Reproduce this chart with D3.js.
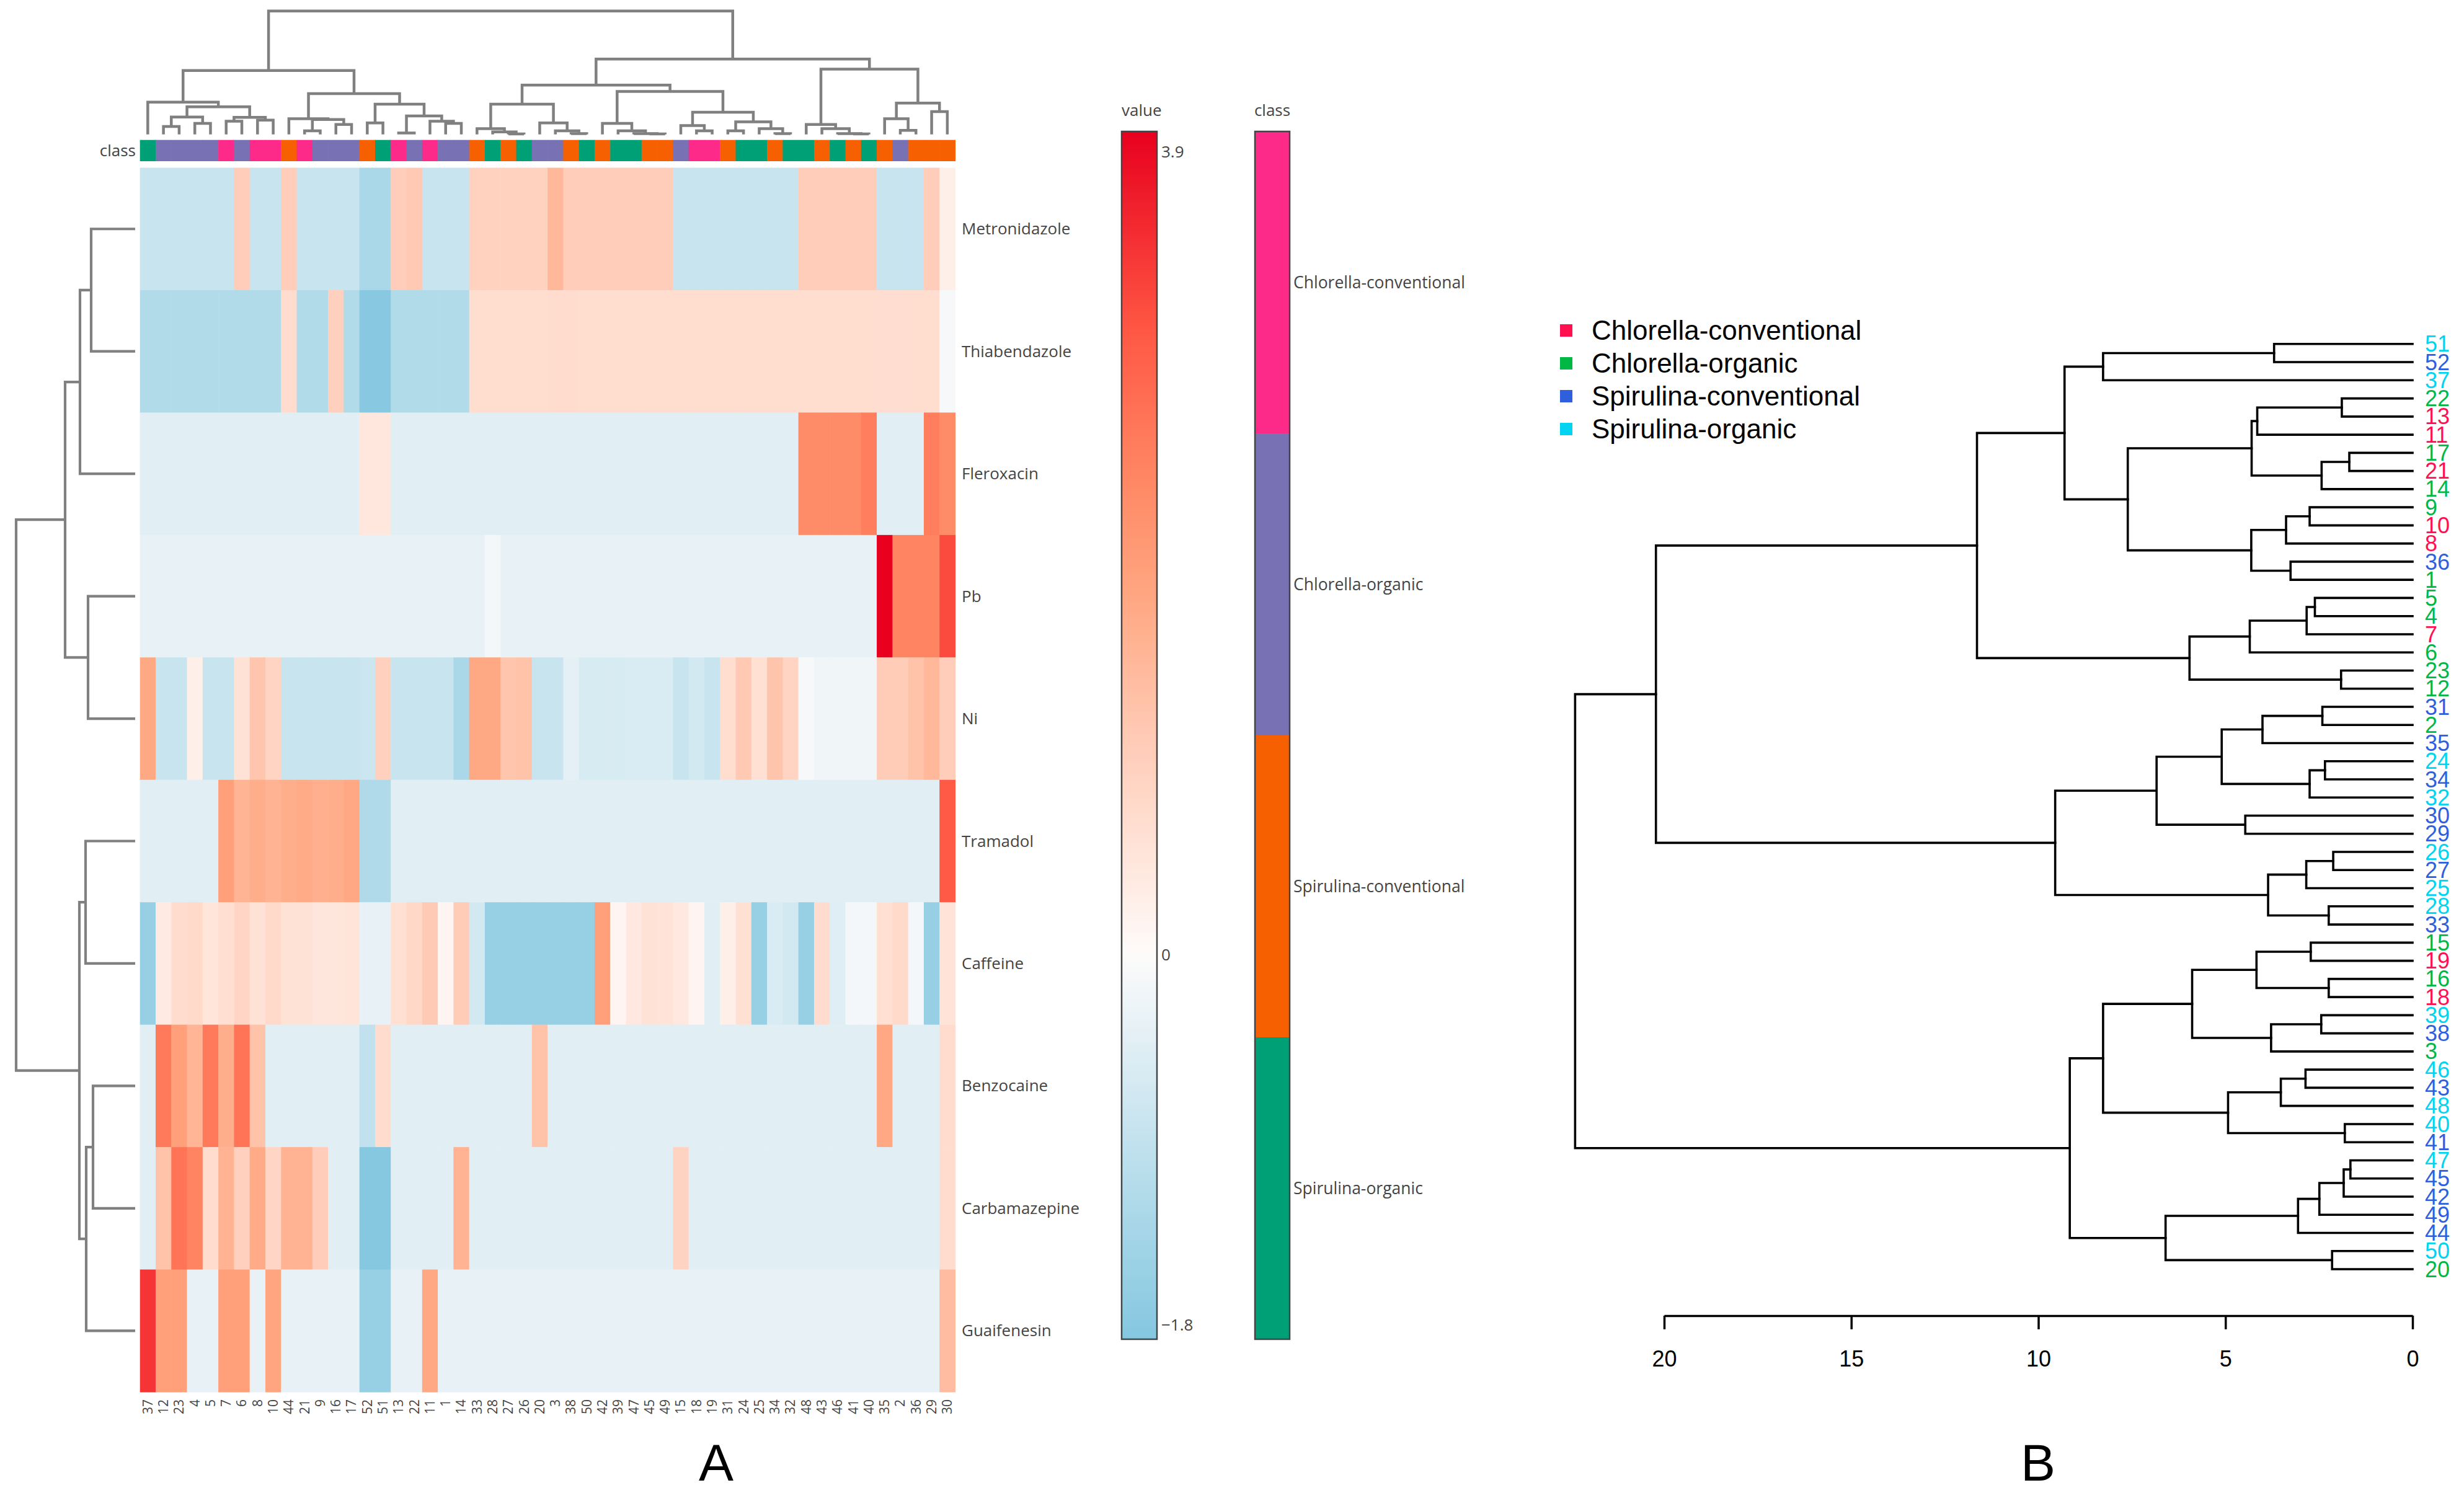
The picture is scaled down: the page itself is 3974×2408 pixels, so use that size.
<!DOCTYPE html>
<html>
<head>
<meta charset="utf-8">
<script src="https://cdn.jsdelivr.net/npm/d3@7"></script>
<style>
  body { margin: 0; background: #fff; }
  svg { display: block; }
</style>
</head>
<body>
<div id="chart"></div>
<script>
// ---------- data ----------

// column order of the heatmap (sample ids, left to right)
const colOrder = [37,12,23,4,5,7,6,8,10,44,21,9,16,17,52,51,13,22,11,1,14,33,28,27,26,20,3,38,50,42,39,47,45,49,15,18,19,31,24,25,34,32,48,43,46,41,40,35,2,36,29,30];

const rowLabels = ["Metronidazole","Thiabendazole","Fleroxacin","Pb","Ni","Tramadol","Caffeine","Benzocaine","Carbamazepine","Guaifenesin"];

const classNames = ["Chlorella-conventional","Chlorella-organic","Spirulina-conventional","Spirulina-organic"];

// class index of sample 1..52 (position = sample - 1)
const sampleClass = [
  1,1,1,1,1,1,0,0,1,0,
  0,1,0,1,1,1,1,0,0,1,
  0,1,1,3,3,3,2,3,2,2,
  2,3,2,2,2,2,3,2,3,3,
  2,2,2,2,2,3,3,3,2,3,
  3,2];

// scaled values per compound, in colOrder
const metronidazole = [
  -0.82,-0.82,-0.82,-0.82,-0.82,-0.82,0.99,-0.82,-0.82,0.99,
  -0.82,-0.82,-0.82,-0.82,-1.26,-1.26,0.99,1.08,-0.82,-0.82,
  -0.82,0.89,0.89,0.89,0.89,0.89,1.41,0.99,0.99,0.99,
  0.99,0.99,0.99,0.99,-0.82,-0.82,-0.82,-0.82,-0.82,-0.82,
  -0.82,-0.82,0.99,0.99,0.99,0.99,0.99,-0.82,-0.82,-0.82,
  0.99,0.26];
const thiabendazole = [
  -1.16,-1.16,-1.16,-1.16,-1.16,-1.16,-1.16,-1.16,-1.16,0.67,
  -1.16,-1.16,0.93,-1.16,-1.81,-1.81,-1.16,-1.16,-1.16,-1.16,
  -1.16,0.65,0.65,0.65,0.65,0.65,0.67,0.67,0.65,0.65,
  0.65,0.65,0.65,0.65,0.65,0.65,0.65,0.65,0.65,0.65,
  0.65,0.65,0.65,0.65,0.65,0.65,0.65,0.63,0.63,0.65,
  0.65,-0.09];
const fleroxacin = [
  -0.43,-0.43,-0.43,-0.43,-0.43,-0.43,-0.43,-0.43,-0.43,-0.43,
  -0.43,-0.43,-0.43,-0.43,0.43,0.43,-0.43,-0.43,-0.43,-0.43,
  -0.43,-0.43,-0.43,-0.43,-0.43,-0.43,-0.43,-0.43,-0.43,-0.43,
  -0.43,-0.43,-0.43,-0.43,-0.43,-0.43,-0.43,-0.43,-0.43,-0.43,
  -0.43,-0.43,2.22,2.22,2.22,2.22,2.45,-0.43,-0.43,-0.43,
  2.45,2.22];
const pb = [
  -0.33,-0.33,-0.33,-0.33,-0.33,-0.33,-0.33,-0.33,-0.33,-0.33,
  -0.33,-0.33,-0.33,-0.33,-0.33,-0.33,-0.33,-0.33,-0.33,-0.33,
  -0.33,-0.33,-0.15,-0.33,-0.33,-0.33,-0.33,-0.33,-0.33,-0.33,
  -0.33,-0.33,-0.33,-0.33,-0.33,-0.33,-0.33,-0.33,-0.33,-0.33,
  -0.33,-0.33,-0.33,-0.33,-0.33,-0.33,-0.33,4.0,2.35,2.35,
  2.35,3.18];
const ni = [
  1.7,-0.82,-0.82,0.26,-0.82,-0.82,0.54,1.16,0.84,-0.82,
  -0.82,-0.82,-0.82,-0.82,-0.76,0.93,-0.82,-0.82,-0.82,-0.82,
  -1.26,1.7,1.7,1.16,1.2,-0.82,-0.82,-0.38,-0.58,-0.58,
  -0.58,-0.55,-0.55,-0.55,-0.82,-0.65,-0.82,0.65,1.08,0.59,
  1.18,0.84,-0.11,-0.2,-0.2,-0.2,-0.2,1.01,1.01,1.2,
  1.41,0.99];
const tramadol = [
  -0.43,-0.43,-0.43,-0.43,-0.43,1.86,1.49,1.6,1.51,1.6,
  1.66,1.58,1.6,1.72,-1.19,-1.19,-0.43,-0.43,-0.43,-0.43,
  -0.43,-0.43,-0.43,-0.43,-0.43,-0.43,-0.43,-0.43,-0.43,-0.43,
  -0.43,-0.43,-0.43,-0.43,-0.43,-0.43,-0.43,-0.43,-0.43,-0.43,
  -0.43,-0.43,-0.43,-0.43,-0.43,-0.43,-0.43,-0.43,-0.43,-0.43,
  -0.43,3.0];
const caffeine = [
  -1.57,0.37,0.67,0.74,0.48,0.61,0.8,0.54,0.74,0.54,
  0.54,0.46,0.46,0.5,-0.33,-0.33,0.59,0.76,1.06,0.13,
  1.01,-0.65,-1.57,-1.57,-1.57,-1.57,-1.57,-1.57,-1.57,1.86,
  0.13,0.41,0.54,0.52,0.41,0.13,-0.43,0.26,0.59,-1.57,
  -0.55,-0.65,-1.57,0.67,-0.47,-0.14,-0.14,0.59,0.74,-0.14,
  -1.57,0.52];
const benzocaine = [
  -0.43,2.52,1.87,1.47,2.52,1.6,2.6,1.2,-0.43,-0.43,
  -0.43,-0.43,-0.43,-0.43,-0.94,0.67,-0.43,-0.43,-0.43,-0.43,
  -0.43,-0.43,-0.43,-0.43,-0.43,1.2,-0.43,-0.43,-0.43,-0.43,
  -0.43,-0.43,-0.43,-0.43,-0.43,-0.43,-0.43,-0.43,-0.43,-0.43,
  -0.43,-0.43,-0.43,-0.43,-0.43,-0.43,-0.43,1.72,-0.43,-0.43,
  -0.43,0.67];
const carbamazepine = [
  -0.43,1.2,2.6,2.36,0.67,1.51,0.93,1.66,0.8,1.51,
  1.51,0.99,-0.43,-0.43,-1.85,-1.85,-0.43,-0.43,-0.43,-0.43,
  1.51,-0.43,-0.43,-0.43,-0.43,-0.43,-0.43,-0.43,-0.43,-0.43,
  -0.43,-0.43,-0.43,-0.43,0.86,-0.43,-0.43,-0.43,-0.43,-0.43,
  -0.43,-0.43,-0.43,-0.43,-0.43,-0.43,-0.43,-0.43,-0.43,-0.43,
  -0.43,0.67];
const guaifenesin = [
  3.42,1.86,1.86,-0.33,-0.33,1.86,1.86,-0.33,1.77,-0.33,
  -0.33,-0.33,-0.33,-0.33,-1.57,-1.57,-0.33,-0.33,1.72,-0.33,
  -0.33,-0.33,-0.33,-0.33,-0.33,-0.33,-0.33,-0.33,-0.33,-0.33,
  -0.33,-0.33,-0.33,-0.33,-0.33,-0.33,-0.33,-0.33,-0.33,-0.33,
  -0.33,-0.33,-0.33,-0.33,-0.33,-0.33,-0.33,-0.33,-0.33,-0.33,
  -0.33,1.34];

// colour bar ticks
const valueTicks = [3.9, 0, -1.8];

// dendrograms: [left, right, height]; leaves are sample ids / row names
const colTreeLeft = [
  [37, [[[12, 23, 37], [4, 5, 52], 82], [[7, 6, 62], [8, 10, 67], 80], 130], 152],
  [[44, [[21, 9, 17], [16, 17, 47], 70], 74], [[52, 51, 54], [[13, 22, 7], [11, [1, 14, 52], 62], 87], 142], 192],
  300];
const colTreeRight = [
  [[[33, [28, [27, 26, 2], 12], 27], [20, [3, [38, 50, 4], 17], 54], 142],
   [[42, [39, [47, [45, 49, 2], 4], 17], 52],
    [[15, [18, 19, 17], 42], [[31, 24, 17], [25, [34, 32, 4], 27], 59], 104], 202], 232],
  [[48, [43, [46, [41, 40, 2], 4], 27], 47], [[35, [2, 36, 19], 74], [29, 30, 107], 147], 307],
  354];
const colTree = [colTreeLeft, colTreeRight, 580];

const rowTree = [
  [[["Metronidazole", "Thiabendazole", 71], "Fleroxacin", 89], ["Pb", "Ni", 76], 113],
  [["Tramadol", "Caffeine", 80], [["Benzocaine", "Carbamazepine", 68], "Guaifenesin", 79], 90],
  192];

// panel B: hierarchical clustering of samples (height axis 0..20+)
const bT1 = [[51, 52, 3.70], 37, 8.27];
const bT2 = [[[[22, 13, 1.89], 11, 4.15], [[17, 21, 1.69], 14, 2.43], 4.30],
             [[[9, 10, 2.75], 8, 3.38], [36, 1, 3.26], 4.31], 7.61];
const bT4 = [[[[5, 4, 2.61], 7, 2.83], 6, 4.35], [23, 12, 1.91], 5.96];
const bU2 = [[[[31, 2, 2.41], 35, 4.01], [[24, 34, 2.34], 32, 2.75], 5.10], [30, 29, 4.47], 6.84];
const bU3 = [[[26, 27, 2.12], 25, 2.84], [28, 33, 2.24], 3.86];
const bV1 = [[[15, 19, 2.72], [16, 18, 2.24], 4.17], [[39, 38, 2.44], 3, 3.78], 5.89];
const bV2 = [[[46, 43, 2.86], 48, 3.52], [40, 41, 1.81], 4.93];
const bW = [[[[[47, 45, 1.66], 42, 1.84], 49, 2.49], 44, 3.06], [50, 20, 2.15], 6.60];
const sampleTree = [
  [[[bT1, bT2, 9.30], bT4, 11.64], [bU2, bU3, 9.55], 20.22],
  [[bV1, bV2, 8.27], bW, 9.16],
  22.38];
const heightTicks = [20, 15, 10, 5, 0];

// ---------- drawing ----------
var width = 3974, height = 2408;
var heatFont = "'Open Sans', 'Noto Sans', sans-serif";
var plainFont = "'Liberation Sans', Arial, sans-serif";

var heatClassColor = ["#fd2a8a", "#7872b4", "#f66001", "#00a077"];
var labelClassColor = ["#ff1050", "#00b843", "#2f5fdc", "#00d4f0"];

var heatColor = d3
  .scaleLinear()
  .domain([-1.87, 0, 0.5, 1.1, 1.7, 2.3, 3.0, 4.0])
  .range(["#84c7e0", "#fdfbfb", "#ffe4d9", "#ffc8b2", "#ffa984", "#ff8864", "#ff5a45", "#e8001e"])
  .clamp(true);

var svg = d3
  .select("#chart")
  .append("svg")
  .attr("width", width)
  .attr("height", height);
svg.append("rect").attr("width", width).attr("height", height).attr("fill", "#fff");

// tree helpers
function layout(node, pos) {
  if (!Array.isArray(node)) return { id: node, p: pos(node), h: 0 };
  var a = layout(node[0], pos), b = layout(node[1], pos);
  return { a: a, b: b, h: node[2], p: (a.p + b.p) / 2 };
}
function joins(n, out) {
  if (n.a) { out.push(n); joins(n.a, out); joins(n.b, out); }
  return out;
}
function leafOrder(node, out) {
  if (Array.isArray(node)) { leafOrder(node[0], out); leafOrder(node[1], out); }
  else out.push(node);
  return out;
}

// ===== panel A : heatmap =====
var x = d3.scaleBand().domain(colOrder).range([225.7, 1540.5]);
var y = d3.scaleBand().domain(rowLabels).range([270.5, 2245]);

var rows = [metronidazole, thiabendazole, fleroxacin, pb, ni, tramadol, caffeine, benzocaine, carbamazepine, guaifenesin];
var cells = [];
rows.forEach(function (r, i) {
  r.forEach(function (v, j) {
    cells.push({ row: rowLabels[i], col: colOrder[j], v: v });
  });
});

svg
  .append("g")
  .selectAll("rect")
  .data(cells)
  .join("rect")
  .attr("x", (d) => x(d.col))
  .attr("y", (d) => y(d.row))
  .attr("width", x.bandwidth() + 0.6)
  .attr("height", y.bandwidth() + 0.6)
  .attr("fill", (d) => heatColor(d.v));

// class side bar
svg
  .append("g")
  .selectAll("rect")
  .data(colOrder)
  .join("rect")
  .attr("x", (d) => x(d))
  .attr("y", 225.7)
  .attr("width", x.bandwidth() + 0.6)
  .attr("height", 34.3)
  .attr("fill", (d) => heatClassColor[sampleClass[d - 1]]);

svg
  .append("text")
  .attr("x", 219)
  .attr("y", 243)
  .attr("dy", "0.35em")
  .attr("text-anchor", "end")
  .attr("font-family", heatFont)
  .attr("font-size", 26)
  .attr("fill", "#444")
  .text("class");

// column dendrogram
var hTop = d3.scaleLinear().domain([0, 580]).range([216.8, 17.8]);
var colRoot = layout(colTree, (d) => x(d) + x.bandwidth() / 2);
svg
  .append("g")
  .selectAll("path")
  .data(joins(colRoot, []))
  .join("path")
  .attr("d", (n) =>
    "M" + n.a.p + "," + hTop(n.a.h) + "V" + hTop(n.h) + "H" + n.b.p + "V" + hTop(n.b.h))
  .attr("fill", "none")
  .attr("stroke", "#808080")
  .attr("stroke-width", 4.5);

// row dendrogram
var hRow = d3.scaleLinear().domain([0, 192]).range([218, 26]);
var rowRoot = layout(rowTree, (d) => y(d) + y.bandwidth() / 2);
svg
  .append("g")
  .selectAll("path")
  .data(joins(rowRoot, []))
  .join("path")
  .attr("d", (n) =>
    "M" + hRow(n.a.h) + "," + n.a.p + "H" + hRow(n.h) + "V" + n.b.p + "H" + hRow(n.b.h))
  .attr("fill", "none")
  .attr("stroke", "#808080")
  .attr("stroke-width", 4.2);

// row labels
svg
  .append("g")
  .selectAll("text")
  .data(rowLabels)
  .join("text")
  .attr("x", 1551)
  .attr("y", (d) => y(d) + y.bandwidth() / 2)
  .attr("dy", "0.35em")
  .attr("font-family", heatFont)
  .attr("font-size", 26)
  .attr("fill", "#444")
  .text((d) => d);

// column labels (rotated)
svg
  .append("g")
  .selectAll("text")
  .data(colOrder)
  .join("text")
  .attr("transform", (d) => "translate(" + (x(d) + x.bandwidth() / 2) + ",2257)rotate(-90)")
  .attr("dy", "0.35em")
  .attr("text-anchor", "end")
  .attr("font-family", heatFont)
  .attr("font-size", 21)
  .attr("fill", "#444")
  .text((d) => String(d));

// value colour bar
var barY = d3.scaleLinear().domain([-1.87, 4.0]).range([2160, 212]);
var defs = svg.append("defs");
var grad = defs
  .append("linearGradient")
  .attr("id", "valueGrad")
  .attr("x1", 0).attr("y1", 1)
  .attr("x2", 0).attr("y2", 0);
grad
  .selectAll("stop")
  .data(d3.range(0, 1.0001, 0.02))
  .join("stop")
  .attr("offset", (t) => t)
  .attr("stop-color", (t) => heatColor(-1.87 + t * 5.87));

svg
  .append("rect")
  .attr("x", 1809)
  .attr("y", 212)
  .attr("width", 57)
  .attr("height", 1948)
  .attr("fill", "url(#valueGrad)")
  .attr("stroke", "#444")
  .attr("stroke-width", 2.5);

svg
  .append("text")
  .attr("x", 1809)
  .attr("y", 178)
  .attr("dy", "0.35em")
  .attr("font-family", heatFont)
  .attr("font-size", 26)
  .attr("fill", "#444")
  .text("value");

svg
  .append("g")
  .selectAll("text")
  .data(valueTicks)
  .join("text")
  .attr("x", 1873)
  .attr("y", (d) => barY(d))
  .attr("dy", "0.35em")
  .attr("font-family", heatFont)
  .attr("font-size", 26)
  .attr("fill", "#444")
  .text((d) => d3.format(".2~g")(d));

// class legend bar
var segH = 1948 / classNames.length;
svg
  .append("g")
  .selectAll("rect")
  .data(classNames)
  .join("rect")
  .attr("x", 2024)
  .attr("y", (d, i) => 212 + i * segH)
  .attr("width", 56)
  .attr("height", segH)
  .attr("fill", (d, i) => heatClassColor[i]);
svg
  .append("rect")
  .attr("x", 2024)
  .attr("y", 212)
  .attr("width", 56)
  .attr("height", 1948)
  .attr("fill", "none")
  .attr("stroke", "#444")
  .attr("stroke-width", 2.5);
svg
  .append("g")
  .selectAll("text")
  .data(classNames)
  .join("text")
  .attr("x", 2086)
  .attr("y", (d, i) => 212 + (i + 0.5) * segH)
  .attr("dy", "0.35em")
  .attr("font-family", heatFont)
  .attr("font-size", 26.5)
  .attr("fill", "#444")
  .text((d) => d);

svg
  .append("text")
  .attr("x", 2052)
  .attr("y", 178)
  .attr("dy", "0.35em")
  .attr("text-anchor", "middle")
  .attr("font-family", heatFont)
  .attr("font-size", 26)
  .attr("fill", "#444")
  .text("class");

// ===== panel B : sample dendrogram =====
var bOrder = leafOrder(sampleTree, []);
var yB = d3.scalePoint().domain(bOrder).range([554.8, 2047]);
var xB = d3.scaleLinear().domain([0, 20]).range([3891, 2684]);
var bRoot = layout(sampleTree, (d) => yB(d));

svg
  .append("g")
  .selectAll("path")
  .data(joins(bRoot, []))
  .join("path")
  .attr("d", (n) =>
    "M" + xB(n.a.h) + "," + n.a.p + "H" + xB(n.h) + "V" + n.b.p + "H" + xB(n.b.h))
  .attr("fill", "none")
  .attr("stroke", "#000")
  .attr("stroke-width", 3.6)
  .attr("stroke-linecap", "square");

svg
  .append("g")
  .selectAll("text")
  .data(bOrder)
  .join("text")
  .attr("x", 3911)
  .attr("y", (d) => yB(d))
  .attr("dy", "0.35em")
  .attr("font-family", plainFont)
  .attr("font-size", 36)
  .attr("fill", (d) => labelClassColor[sampleClass[d - 1]])
  .text((d) => String(d));

// height axis
var axisG = svg
  .append("g")
  .attr("transform", "translate(0,2122)")
  .call(d3.axisBottom(xB).tickValues(heightTicks).tickSize(22).tickSizeOuter(0).tickPadding(34));
axisG.selectAll("path, line").attr("stroke", "#000").attr("stroke-width", 3.5);
axisG
  .selectAll("text")
  .attr("font-family", plainFont)
  .attr("font-size", 36)
  .attr("fill", "#000");

// legend
var lg = svg
  .append("g")
  .selectAll("g")
  .data(classNames)
  .join("g")
  .attr("transform", (d, i) => "translate(2516," + (533 + i * 53) + ")");
lg.append("rect")
  .attr("x", 0)
  .attr("y", -10)
  .attr("width", 20)
  .attr("height", 20)
  .attr("fill", (d, i) => labelClassColor[i]);
lg.append("text")
  .attr("x", 51)
  .attr("dy", "0.35em")
  .attr("font-family", plainFont)
  .attr("font-size", 44)
  .attr("fill", "#000")
  .text((d) => d);

// panel letters
svg
  .append("g")
  .selectAll("text")
  .data([["A", 1155], ["B", 3287]])
  .join("text")
  .attr("x", (d) => d[1])
  .attr("y", 2388)
  .attr("text-anchor", "middle")
  .attr("font-family", plainFont)
  .attr("font-size", 84)
  .attr("fill", "#000")
  .text((d) => d[0]);
</script>
</body>
</html>
